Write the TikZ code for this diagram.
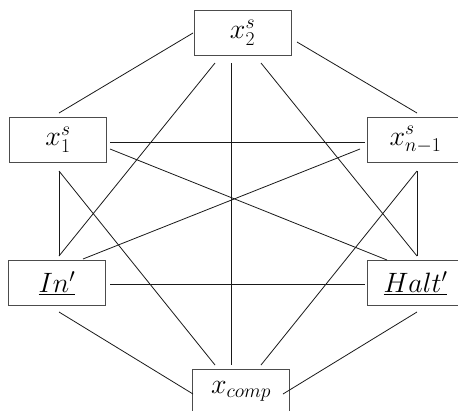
\RequirePackage{fix-cm}
\documentclass[tikz,border=0pt]{standalone}
\usetikzlibrary{calc}
\begin{document}
\begin{tikzpicture}[x=1pt,y=-1pt,
  box/.style={draw=black!70,line width=1pt,minimum width=97pt,minimum height=45pt,inner sep=0pt,outer sep=0pt,font=\fontsize{28}{33}\selectfont},
  edge/.style={draw=black!90,line width=0.8pt}]
\useasboundingbox (0,0) rectangle (458,410);
\clip (0,0) rectangle (458,410);
\node[box] (x2) at (242.5,33) {$x_2^s$};
\node[box] (x1) at (58,140) {$x_1^s$};
\node[box] (xn) at (415.5,140) {$x_{n-1}^s$};
\node[box] (in) at (57,283) {$\underline{In'}$};
\node[box] (halt) at (415.5,283) {$\underline{Halt'}$};
\node[box] (xc) at (241,391.5) {$x_{comp}$};
% from x2
\draw[edge] ($(x2)+(-49.5,0)$) -- ($(x1)+(1,-27)$);
\draw[edge] ($(x2)+(54.5,9)$) -- ($(xn)+(1.5,-27)$);
\draw[edge] ($(x2)+(-27.5,30)$) -- ($(in)+(2,-27)$);
\draw[edge] ($(x2)+(-11.5,30)$) -- ($(xc)+(-10,-26.5)$);
\draw[edge] ($(x2)+(18.5,30)$) -- ($(halt)+(1.5,-27)$);
% from x1
\draw[edge] ($(x1)+(52,2)$) -- ($(xn)+(-50.5,2)$);
\draw[edge] ($(x1)+(52,9)$) -- ($(halt)+(-28.5,-23)$);
\draw[edge] ($(x1)+(1,31)$) -- ($(in)+(2,-27)$);
\draw[edge] ($(x1)+(1,31)$) -- ($(xc)+(-26,-26.5)$);
% from xn
\draw[edge] ($(xn)+(-55.5,9)$) -- ($(in)+(26,-24)$);
\draw[edge] ($(xn)+(1.5,31)$) -- ($(halt)+(1.5,-27)$);
\draw[edge] ($(xn)+(1.5,31)$) -- ($(xc)+(20,-26.5)$);
% from in
\draw[edge] ($(in)+(53,1)$) -- ($(halt)+(-50.5,1)$);
\draw[edge] ($(in)+(2,29)$) -- ($(xc)+(-48,2.5)$);
% from halt
\draw[edge] ($(halt)+(1.5,29)$) -- ($(xc)+(42,2.5)$);
\end{tikzpicture}
\end{document}
